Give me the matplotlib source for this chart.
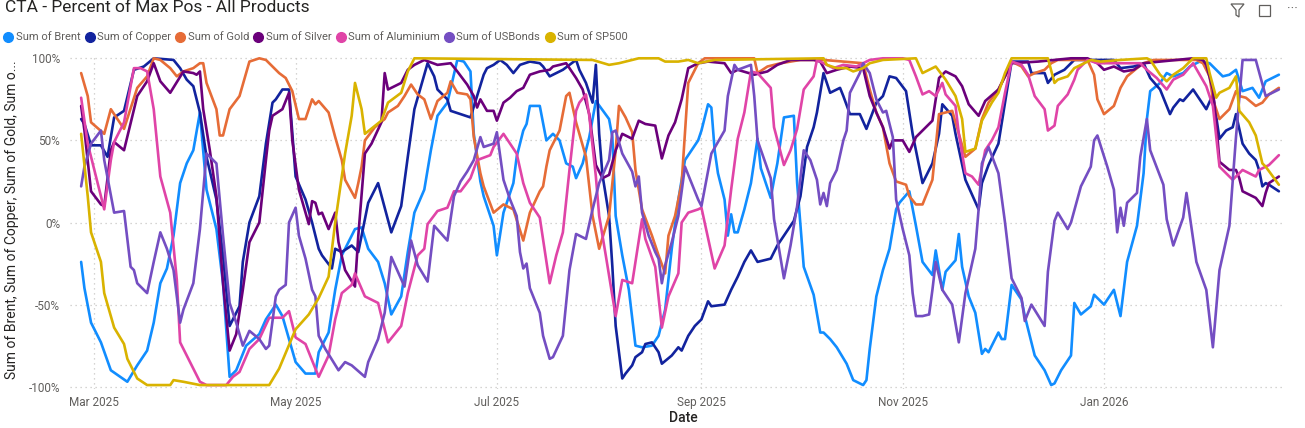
import matplotlib
matplotlib.use("Agg")
import matplotlib.pyplot as plt
from matplotlib.lines import Line2D
from matplotlib.patches import Polygon, Rectangle
import pandas as pd

plt.rcParams['font.family'] = ['Roboto', 'DejaVu Sans']

# CTA percent of max position (values in %)
brent_dates = ["2025-02-25", "2025-02-26", "2025-02-28", "2025-03-03", "2025-03-06", "2025-03-11", "2025-03-14", "2025-03-17", "2025-03-19", "2025-03-21", "2025-03-23", "2025-03-25", "2025-03-27", "2025-03-29", "2025-03-31", "2025-04-02", "2025-04-04", "2025-04-07", "2025-04-09", "2025-04-11", "2025-04-13", "2025-04-16", "2025-04-20", "2025-04-22", "2025-04-25", "2025-04-27", "2025-05-01", "2025-05-04", "2025-05-07", "2025-05-08", "2025-05-11", "2025-05-13", "2025-05-15", "2025-05-17", "2025-05-19", "2025-05-21", "2025-05-23", "2025-05-26", "2025-05-28", "2025-05-30", "2025-06-02", "2025-06-04", "2025-06-06", "2025-06-09", "2025-06-11", "2025-06-13", "2025-06-16", "2025-06-19", "2025-06-21", "2025-06-23", "2025-06-24", "2025-06-26", "2025-06-27", "2025-06-29", "2025-06-30", "2025-07-01", "2025-07-03", "2025-07-06", "2025-07-07", "2025-07-09", "2025-07-10", "2025-07-11", "2025-07-14", "2025-07-16", "2025-07-18", "2025-07-20", "2025-07-22", "2025-07-24", "2025-07-25", "2025-07-27", "2025-07-29", "2025-07-31", "2025-08-04", "2025-08-05", "2025-08-06", "2025-08-08", "2025-08-10", "2025-08-12", "2025-08-14", "2025-08-17", "2025-08-19", "2025-08-21", "2025-08-23", "2025-08-25", "2025-08-27", "2025-08-29", "2025-08-31", "2025-09-01", "2025-09-03", "2025-09-04", "2025-09-05", "2025-09-06", "2025-09-08", "2025-09-09", "2025-09-10", "2025-09-11", "2025-09-12", "2025-09-14", "2025-09-16", "2025-09-18", "2025-09-19", "2025-09-22", "2025-09-23", "2025-09-24", "2025-09-26", "2025-09-29", "2025-09-30", "2025-10-02", "2025-10-05", "2025-10-07", "2025-10-08", "2025-10-10", "2025-10-12", "2025-10-15", "2025-10-17", "2025-10-20", "2025-10-21", "2025-10-22", "2025-10-24", "2025-10-26", "2025-10-28", "2025-10-30", "2025-10-31", "2025-11-03", "2025-11-05", "2025-11-07", "2025-11-10", "2025-11-11", "2025-11-13", "2025-11-14", "2025-11-17", "2025-11-18", "2025-11-19", "2025-11-21", "2025-11-23", "2025-11-25", "2025-11-26", "2025-11-27", "2025-11-30", "2025-12-01", "2025-12-02", "2025-12-04", "2025-12-07", "2025-12-08", "2025-12-11", "2025-12-14", "2025-12-16", "2025-12-17", "2025-12-19", "2025-12-22", "2025-12-23", "2025-12-25", "2025-12-28", "2025-12-29", "2026-01-01", "2026-01-04", "2026-01-06", "2026-01-08", "2026-01-11", "2026-01-13", "2026-01-14", "2026-01-15", "2026-01-18", "2026-01-20", "2026-01-22", "2026-01-25", "2026-01-27", "2026-01-30", "2026-02-02", "2026-02-06", "2026-02-08", "2026-02-10", "2026-02-12", "2026-02-15", "2026-02-17", "2026-02-19", "2026-02-23"]
brent = [-24, -40, -61, -73, -90, -97, -87, -78, -61, -37, -28, -8, 24, 36, 44, 67, 20, -4, -37, -94, -90, -75, -68, -59, -50, -57, -85, -92, -92, -79, -67, -41, -20, -12, -4, -3, -16, -24, -37, -56, -45, -18, 6, 20, 44, 65, 73, 99, 98, 92, 54, 25, 16, 4, -2, -20, 6, 24, 40, 56, 60, 71, 71, 50, 54, 50, 36, 34, 27, 36, 52, 74, 63, 52, 4, -20, -41, -75, -76, -75, -69, -53, -16, 14, 38, 44, 50, 56, 72, 70, 44, 30, 14, -8, 5, -6, -6, 8, 24, 51, 33, 15, 26, 36, 64, 65, 24, -27, -44, -67, -67, -71, -76, -86, -96, -99, -96, -77, -45, -29, -16, 8, 12, 19, -2, -24, -32, -17, -41, -30, -23, -7, -27, -45, -55, -80, -77, -79, -67, -71, -71, -38, -47, -57, -81, -90, -99, -98, -90, -81, -49, -56, -51, -44, -50, -41, -57, -24, -2, 30, 63, 80, 85, 91, 89, 91, 95, 98, 97, 89, 90, 93, 80, 82, 76, 86, 90]

copper_dates = ["2025-02-25", "2025-02-26", "2025-02-28", "2025-03-03", "2025-03-05", "2025-03-07", "2025-03-10", "2025-03-13", "2025-03-16", "2025-03-19", "2025-03-25", "2025-03-27", "2025-03-29", "2025-03-31", "2025-04-02", "2025-04-04", "2025-04-07", "2025-04-09", "2025-04-11", "2025-04-12", "2025-04-14", "2025-04-15", "2025-04-17", "2025-04-20", "2025-04-22", "2025-04-24", "2025-04-25", "2025-04-27", "2025-04-29", "2025-05-01", "2025-05-04", "2025-05-06", "2025-05-08", "2025-05-09", "2025-05-12", "2025-05-13", "2025-05-15", "2025-05-18", "2025-05-20", "2025-05-23", "2025-05-26", "2025-05-30", "2025-06-02", "2025-06-04", "2025-06-06", "2025-06-08", "2025-06-10", "2025-06-12", "2025-06-13", "2025-06-16", "2025-06-17", "2025-06-23", "2025-06-25", "2025-06-27", "2025-06-28", "2025-06-30", "2025-07-02", "2025-07-04", "2025-07-06", "2025-07-08", "2025-07-11", "2025-07-14", "2025-07-15", "2025-07-17", "2025-07-18", "2025-07-21", "2025-07-23", "2025-07-25", "2025-07-26", "2025-07-28", "2025-07-30", "2025-07-31", "2025-08-01", "2025-08-02", "2025-08-04", "2025-08-05", "2025-08-06", "2025-08-08", "2025-08-09", "2025-08-11", "2025-08-12", "2025-08-14", "2025-08-15", "2025-08-17", "2025-08-19", "2025-08-20", "2025-08-23", "2025-08-25", "2025-08-26", "2025-08-28", "2025-08-30", "2025-09-01", "2025-09-03", "2025-09-04", "2025-09-08", "2025-09-10", "2025-09-12", "2025-09-14", "2025-09-16", "2025-09-18", "2025-09-22", "2025-09-24", "2025-09-26", "2025-09-29", "2025-10-01", "2025-10-03", "2025-10-05", "2025-10-06", "2025-10-07", "2025-10-08", "2025-10-10", "2025-10-13", "2025-10-14", "2025-10-16", "2025-10-19", "2025-10-21", "2025-10-24", "2025-10-26", "2025-10-28", "2025-10-30", "2025-11-02", "2025-11-04", "2025-11-07", "2025-11-10", "2025-11-12", "2025-11-13", "2025-11-16", "2025-11-17", "2025-11-20", "2025-11-22", "2025-11-24", "2025-11-25", "2025-11-27", "2025-11-30", "2025-12-02", "2025-12-04", "2025-12-09", "2025-12-10", "2025-12-14", "2025-12-15", "2025-12-17", "2025-12-20", "2025-12-23", "2026-01-04", "2026-01-06", "2026-01-10", "2026-01-13", "2026-01-15", "2026-01-18", "2026-01-21", "2026-01-22", "2026-01-24", "2026-01-25", "2026-01-28", "2026-01-30", "2026-02-01", "2026-02-03", "2026-02-05", "2026-02-07", "2026-02-09", "2026-02-10", "2026-02-12", "2026-02-14", "2026-02-16", "2026-02-17", "2026-02-18", "2026-02-19", "2026-02-20", "2026-02-23"]
copper = [63, 60, 47, 47, 40, 64, 68, 93, 95, 100, 99, 94, 87, 83, 67, 40, 14, -20, -63, -59, -51, -24, 0, 16, 48, 73, 75, 81, 81, 28, 14, 0, -16, -20, -28, -16, -18, -14, -18, 12, 24, -6, 10, 40, 69, 83, 97, 89, 81, 75, 68, 64, 77, 90, 94, 96, 99, 96, 91, 96, 98, 97, 95, 89, 90, 93, 96, 99, 93, 85, 73, 96, 54, 29, 4, -27, -63, -95, -92, -87, -82, -79, -74, -73, -79, -86, -81, -76, -78, -69, -63, -59, -48, -51, -50, -41, -33, -24, -17, -24, -22, -14, -8, 1, 16, 46, 58, 67, 79, 91, 79, 82, 77, 66, 66, 57, 73, 77, 89, 88, 80, 54, 24, 36, 54, 72, 65, 54, 26, 17, 8, 24, 35, 48, 73, 98, 98, 91, 91, 85, 90, 93, 99, 99, 94, 95, 97, 88, 81, 66, 70, 75, 74, 81, 75, 69, 78, 51, 56, 58, 66, 48, 42, 38, 32, 22, 24, 23, 19]

gold_dates = ["2025-02-25", "2025-02-27", "2025-02-28", "2025-03-04", "2025-03-06", "2025-03-10", "2025-03-14", "2025-03-17", "2025-03-19", "2025-03-21", "2025-03-24", "2025-03-26", "2025-03-28", "2025-03-31", "2025-04-02", "2025-04-03", "2025-04-04", "2025-04-07", "2025-04-08", "2025-04-09", "2025-04-11", "2025-04-14", "2025-04-17", "2025-04-20", "2025-04-22", "2025-04-24", "2025-04-26", "2025-04-28", "2025-04-30", "2025-05-02", "2025-05-04", "2025-05-06", "2025-05-07", "2025-05-08", "2025-05-11", "2025-05-13", "2025-05-15", "2025-05-16", "2025-05-19", "2025-05-20", "2025-05-21", "2025-05-22", "2025-05-25", "2025-05-28", "2025-05-29", "2025-06-01", "2025-06-03", "2025-06-05", "2025-06-07", "2025-06-09", "2025-06-11", "2025-06-13", "2025-06-16", "2025-06-17", "2025-06-19", "2025-06-22", "2025-06-23", "2025-06-24", "2025-06-26", "2025-06-27", "2025-06-30", "2025-07-03", "2025-07-06", "2025-07-09", "2025-07-11", "2025-07-14", "2025-07-15", "2025-07-16", "2025-07-17", "2025-07-20", "2025-07-22", "2025-07-23", "2025-07-25", "2025-07-28", "2025-07-30", "2025-08-01", "2025-08-04", "2025-08-06", "2025-08-07", "2025-08-09", "2025-08-11", "2025-08-12", "2025-08-14", "2025-08-17", "2025-08-19", "2025-08-21", "2025-08-22", "2025-08-24", "2025-08-26", "2025-08-28", "2025-08-31", "2025-09-02", "2025-09-17", "2025-09-18", "2025-09-21", "2025-09-25", "2025-10-01", "2025-10-08", "2025-10-14", "2025-10-20", "2025-10-22", "2025-10-24", "2025-10-26", "2025-10-28", "2025-10-30", "2025-11-02", "2025-11-03", "2025-11-05", "2025-11-07", "2025-11-10", "2025-11-12", "2025-11-16", "2025-11-18", "2025-11-20", "2025-11-23", "2025-11-25", "2025-11-27", "2025-11-30", "2025-12-03", "2025-12-04", "2025-12-07", "2025-12-09", "2025-12-11", "2025-12-14", "2025-12-16", "2025-12-18", "2025-12-27", "2025-12-29", "2025-12-30", "2026-01-01", "2026-01-04", "2026-01-06", "2026-01-08", "2026-01-11", "2026-01-13", "2026-01-16", "2026-01-29", "2026-01-31", "2026-02-02", "2026-02-03", "2026-02-05", "2026-02-08", "2026-02-10", "2026-02-11", "2026-02-13", "2026-02-16", "2026-02-18", "2026-02-20", "2026-02-23"]
gold = [91, 77, 61, 54, 69, 57, 82, 89, 100, 99, 94, 89, 92, 94, 97, 97, 85, 69, 53, 53, 69, 77, 98, 100, 99, 95, 91, 88, 80, 63, 63, 75, 72, 74, 67, 52, 38, 26, 15, 24, 34, 50, 58, 63, 67, 71, 77, 84, 78, 75, 63, 74, 79, 86, 79, 78, 75, 52, 30, 22, 6, 11, 8, -11, 6, 19, 22, 34, 44, 56, 77, 79, 61, 40, 4, -16, 4, 44, 71, 64, 55, 32, 8, -8, -20, -31, -8, 4, 24, 85, 97, 100, 100, 91, 95, 97, 99, 99, 98, 97, 81, 67, 58, 36, 25, 23, 16, 11, 11, 26, 66, 68, 54, 40, 45, 63, 73, 81, 93, 98, 95, 89, 91, 93, 97, 99, 99, 90, 75, 66, 71, 82, 89, 94, 97, 99, 99, 97, 89, 75, 63, 69, 80, 77, 76, 71, 73, 78, 82]

silver_dates = ["2025-02-25", "2025-02-26", "2025-02-28", "2025-03-03", "2025-03-04", "2025-03-06", "2025-03-07", "2025-03-10", "2025-03-14", "2025-03-17", "2025-03-19", "2025-03-21", "2025-03-24", "2025-03-28", "2025-03-31", "2025-04-01", "2025-04-02", "2025-04-03", "2025-04-05", "2025-04-07", "2025-04-09", "2025-04-11", "2025-04-13", "2025-04-15", "2025-04-17", "2025-04-20", "2025-04-22", "2025-04-23", "2025-04-24", "2025-04-27", "2025-04-29", "2025-04-30", "2025-05-02", "2025-05-05", "2025-05-06", "2025-05-07", "2025-05-08", "2025-05-09", "2025-05-11", "2025-05-13", "2025-05-14", "2025-05-16", "2025-05-19", "2025-05-20", "2025-05-22", "2025-05-24", "2025-05-27", "2025-05-28", "2025-05-29", "2025-06-02", "2025-06-04", "2025-06-06", "2025-06-09", "2025-06-13", "2025-06-17", "2025-06-19", "2025-06-22", "2025-06-24", "2025-06-25", "2025-06-26", "2025-06-28", "2025-06-30", "2025-07-01", "2025-07-03", "2025-07-05", "2025-07-07", "2025-07-09", "2025-07-11", "2025-07-14", "2025-07-17", "2025-07-18", "2025-07-22", "2025-07-25", "2025-07-27", "2025-07-29", "2025-07-31", "2025-08-02", "2025-08-04", "2025-08-06", "2025-08-08", "2025-08-11", "2025-08-13", "2025-08-15", "2025-08-18", "2025-08-20", "2025-08-22", "2025-08-24", "2025-08-26", "2025-08-28", "2025-08-31", "2025-09-03", "2025-09-08", "2025-09-10", "2025-09-12", "2025-09-17", "2025-09-21", "2025-09-24", "2025-09-28", "2025-10-05", "2025-10-07", "2025-10-09", "2025-10-12", "2025-10-16", "2025-10-20", "2025-10-22", "2025-10-24", "2025-10-26", "2025-10-28", "2025-10-29", "2025-11-01", "2025-11-03", "2025-11-05", "2025-11-10", "2025-11-12", "2025-11-14", "2025-11-17", "2025-11-19", "2025-11-21", "2025-11-24", "2025-11-26", "2025-11-30", "2025-12-02", "2025-12-04", "2025-12-12", "2025-12-22", "2025-12-27", "2025-12-30", "2026-01-01", "2026-01-04", "2026-01-07", "2026-01-10", "2026-01-13", "2026-01-28", "2026-01-31", "2026-02-01", "2026-02-03", "2026-02-04", "2026-02-05", "2026-02-08", "2026-02-10", "2026-02-11", "2026-02-12", "2026-02-16", "2026-02-18", "2026-02-19", "2026-02-20", "2026-02-23"]
silver = [71, 56, 19, 11, 10, 44, 49, 44, 77, 86, 97, 86, 79, 92, 91, 90, 92, 69, 44, 16, -37, -78, -68, -41, -12, 0, 38, 56, 65, 69, 79, 50, 20, -1, 13, 12, 5, 6, -4, 6, -12, -29, -39, -8, 42, 48, 61, 91, 81, 85, 93, 96, 99, 96, 97, 92, 84, 77, 70, 75, 68, 68, 62, 73, 76, 80, 82, 90, 92, 93, 95, 97, 88, 81, 66, 35, 27, 29, 44, 54, 51, 62, 60, 59, 39, 53, 61, 75, 94, 97, 98, 97, 91, 93, 90, 92, 96, 99, 99, 98, 91, 93, 95, 94, 77, 67, 58, 45, 50, 50, 43, 52, 62, 88, 92, 89, 83, 72, 65, 74, 81, 89, 97, 98, 100, 100, 97, 93, 95, 92, 93, 97, 100, 99, 96, 81, 61, 37, 32, 32, 27, 19, 15, 10, 18, 24, 28]

aluminium_dates = ["2025-02-25", "2025-02-27", "2025-03-01", "2025-03-04", "2025-03-06", "2025-03-07", "2025-03-10", "2025-03-13", "2025-03-15", "2025-03-17", "2025-03-19", "2025-03-21", "2025-03-24", "2025-03-26", "2025-03-27", "2025-03-30", "2025-04-02", "2025-04-04", "2025-04-10", "2025-04-12", "2025-04-14", "2025-04-17", "2025-04-20", "2025-04-23", "2025-04-27", "2025-04-29", "2025-05-01", "2025-05-04", "2025-05-08", "2025-05-11", "2025-05-13", "2025-05-15", "2025-05-18", "2025-05-19", "2025-05-22", "2025-05-26", "2025-05-29", "2025-06-02", "2025-06-04", "2025-06-07", "2025-06-09", "2025-06-10", "2025-06-13", "2025-06-16", "2025-06-18", "2025-06-20", "2025-06-23", "2025-06-25", "2025-06-29", "2025-06-30", "2025-07-03", "2025-07-07", "2025-07-09", "2025-07-11", "2025-07-14", "2025-07-17", "2025-07-19", "2025-07-21", "2025-07-23", "2025-07-25", "2025-07-26", "2025-07-28", "2025-07-29", "2025-07-31", "2025-08-01", "2025-08-03", "2025-08-06", "2025-08-08", "2025-08-11", "2025-08-14", "2025-08-15", "2025-08-18", "2025-08-20", "2025-08-22", "2025-08-25", "2025-08-26", "2025-08-28", "2025-08-31", "2025-09-01", "2025-09-05", "2025-09-08", "2025-09-10", "2025-09-12", "2025-09-14", "2025-09-16", "2025-09-18", "2025-09-22", "2025-09-23", "2025-09-26", "2025-09-28", "2025-09-30", "2025-10-02", "2025-10-05", "2025-10-06", "2025-10-08", "2025-10-11", "2025-10-14", "2025-10-18", "2025-10-22", "2025-10-26", "2025-11-01", "2025-11-03", "2025-11-05", "2025-11-07", "2025-11-09", "2025-11-11", "2025-11-13", "2025-11-14", "2025-11-17", "2025-11-18", "2025-11-20", "2025-11-22", "2025-11-24", "2025-11-26", "2025-11-28", "2025-11-30", "2025-12-02", "2025-12-04", "2025-12-07", "2025-12-09", "2025-12-11", "2025-12-14", "2025-12-15", "2025-12-17", "2025-12-18", "2025-12-21", "2025-12-23", "2025-12-24", "2025-12-27", "2025-12-30", "2026-01-12", "2026-01-14", "2026-01-17", "2026-01-20", "2026-01-22", "2026-01-25", "2026-01-28", "2026-01-30", "2026-02-01", "2026-02-03", "2026-02-05", "2026-02-09", "2026-02-12", "2026-02-16", "2026-02-17", "2026-02-20", "2026-02-23"]
aluminium = [76, 48, 32, 8, 38, 49, 61, 94, 94, 92, 69, 28, 6, -35, -73, -85, -97, -99, -99, -94, -91, -77, -71, -58, -58, -54, -70, -74, -94, -81, -59, -43, -38, -31, -45, -49, -73, -63, -43, -20, -16, -1, 7, 9, 19, 19, 27, 38, 41, 46, 54, 42, 24, 12, 3, -37, -20, -6, 32, 68, 73, 78, 65, 28, 4, -20, -57, -35, -37, 2, -10, -27, -64, -45, -31, 0, 6, 8, 9, -28, -14, 20, 51, 67, 92, 91, 82, 58, 35, 44, 57, 81, 89, 99, 97, 94, 96, 95, 99, 100, 100, 99, 89, 78, 80, 77, 85, 78, 71, 54, 30, 28, 23, 44, 50, 58, 79, 98, 96, 90, 77, 69, 56, 59, 71, 78, 87, 93, 99, 97, 97, 93, 88, 81, 87, 90, 97, 90, 83, 71, 34, 26, 32, 28, 32, 35, 41]

usbonds_dates = ["2025-02-25", "2025-02-26", "2025-02-28", "2025-03-03", "2025-03-04", "2025-03-07", "2025-03-10", "2025-03-12", "2025-03-13", "2025-03-14", "2025-03-17", "2025-03-19", "2025-03-21", "2025-03-23", "2025-03-25", "2025-03-27", "2025-03-28", "2025-03-31", "2025-04-02", "2025-04-04", "2025-04-07", "2025-04-09", "2025-04-11", "2025-04-13", "2025-04-15", "2025-04-17", "2025-04-20", "2025-04-22", "2025-04-23", "2025-04-25", "2025-04-26", "2025-04-28", "2025-04-29", "2025-05-01", "2025-05-02", "2025-05-04", "2025-05-06", "2025-05-07", "2025-05-08", "2025-05-10", "2025-05-14", "2025-05-16", "2025-05-18", "2025-05-22", "2025-05-23", "2025-05-26", "2025-05-28", "2025-05-30", "2025-06-03", "2025-06-05", "2025-06-07", "2025-06-10", "2025-06-12", "2025-06-16", "2025-06-18", "2025-06-20", "2025-06-22", "2025-06-24", "2025-06-26", "2025-06-27", "2025-06-30", "2025-07-01", "2025-07-03", "2025-07-05", "2025-07-07", "2025-07-08", "2025-07-09", "2025-07-10", "2025-07-11", "2025-07-14", "2025-07-15", "2025-07-17", "2025-07-18", "2025-07-21", "2025-07-23", "2025-07-25", "2025-07-28", "2025-07-30", "2025-08-01", "2025-08-04", "2025-08-05", "2025-08-06", "2025-08-08", "2025-08-11", "2025-08-12", "2025-08-13", "2025-08-14", "2025-08-16", "2025-08-18", "2025-08-19", "2025-08-20", "2025-08-21", "2025-08-23", "2025-08-25", "2025-08-27", "2025-08-29", "2025-08-31", "2025-09-01", "2025-09-04", "2025-09-08", "2025-09-09", "2025-09-11", "2025-09-12", "2025-09-16", "2025-09-17", "2025-09-18", "2025-09-22", "2025-09-23", "2025-09-26", "2025-09-28", "2025-09-30", "2025-10-02", "2025-10-04", "2025-10-06", "2025-10-07", "2025-10-08", "2025-10-09", "2025-10-10", "2025-10-12", "2025-10-14", "2025-10-15", "2025-10-16", "2025-10-19", "2025-10-20", "2025-10-22", "2025-10-24", "2025-10-26", "2025-10-27", "2025-10-29", "2025-10-30", "2025-11-01", "2025-11-03", "2025-11-04", "2025-11-05", "2025-11-07", "2025-11-09", "2025-11-10", "2025-11-11", "2025-11-13", "2025-11-16", "2025-11-18", "2025-11-20", "2025-11-23", "2025-11-24", "2025-11-25", "2025-11-27", "2025-11-30", "2025-12-02", "2025-12-04", "2025-12-07", "2025-12-08", "2025-12-10", "2025-12-14", "2025-12-15", "2025-12-17", "2025-12-18", "2025-12-21", "2025-12-22", "2025-12-25", "2025-12-28", "2025-12-29", "2025-12-30", "2026-01-02", "2026-01-04", "2026-01-05", "2026-01-06", "2026-01-07", "2026-01-08", "2026-01-11", "2026-01-12", "2026-01-14", "2026-01-15", "2026-01-19", "2026-01-20", "2026-01-22", "2026-01-25", "2026-01-26", "2026-01-29", "2026-02-01", "2026-02-03", "2026-02-05", "2026-02-08", "2026-02-10", "2026-02-12", "2026-02-16", "2026-02-19", "2026-02-23"]
usbonds = [22, 34, 48, 56, 38, 6, 7, -27, -29, -37, -43, -24, -6, -16, -29, -61, -53, -37, -4, 42, 36, -8, -49, -61, -75, -66, -71, -77, -75, -45, -41, -38, 0, 9, -8, -22, -41, -45, -69, -77, -90, -85, -87, -94, -85, -71, -55, -21, -39, -11, -26, -36, -2, -11, 16, 25, 31, 38, 52, 46, 48, 55, 26, 14, 4, -18, -28, -25, -40, -55, -69, -83, -82, -69, -29, -7, -10, 8, 24, 38, 55, 56, 42, 31, 22, 28, 6, -8, -18, -22, -37, -26, -12, 4, 34, 24, 14, 10, 42, 56, 77, 96, 93, 96, 77, 50, 27, 2, -34, -14, 10, 44, 38, 26, 11, 18, 10, 24, 32, 50, 56, 79, 91, 97, 91, 75, 67, 68, 52, 14, -4, -20, -43, -57, -57, -56, -41, -24, -41, -50, -73, -43, -16, 8, 36, 46, 30, 0, -34, -46, -60, -50, -63, -30, 1, 6, -4, 0, 22, 34, 50, 53, 34, 20, -6, 9, -2, 12, 18, 40, 63, 44, 23, 2, -14, 3, 18, -24, -41, -76, -29, -2, 52, 99, 99, 77, 81]

sp500_dates = ["2025-02-25", "2025-02-27", "2025-02-28", "2025-03-03", "2025-03-04", "2025-03-07", "2025-03-10", "2025-03-11", "2025-03-14", "2025-03-17", "2025-03-24", "2025-03-25", "2025-03-28", "2025-04-02", "2025-04-23", "2025-04-26", "2025-05-01", "2025-05-05", "2025-05-08", "2025-05-11", "2025-05-13", "2025-05-16", "2025-05-18", "2025-05-19", "2025-05-21", "2025-05-22", "2025-05-27", "2025-05-29", "2025-06-02", "2025-06-04", "2025-06-06", "2025-07-30", "2025-08-04", "2025-08-07", "2025-08-13", "2025-08-19", "2025-08-21", "2025-08-25", "2025-08-28", "2025-08-31", "2025-09-05", "2025-10-08", "2025-10-09", "2025-10-12", "2025-10-15", "2025-10-17", "2025-10-20", "2025-10-22", "2025-10-26", "2025-11-05", "2025-11-07", "2025-11-09", "2025-11-11", "2025-11-14", "2025-11-17", "2025-11-19", "2025-11-20", "2025-11-23", "2025-11-25", "2025-11-28", "2025-11-30", "2025-12-02", "2025-12-04", "2025-12-15", "2025-12-17", "2025-12-18", "2025-12-21", "2025-12-23", "2025-12-26", "2025-12-28", "2025-12-31", "2026-01-06", "2026-01-14", "2026-01-15", "2026-01-18", "2026-01-20", "2026-01-22", "2026-01-25", "2026-01-28", "2026-02-01", "2026-02-02", "2026-02-04", "2026-02-05", "2026-02-08", "2026-02-10", "2026-02-11", "2026-02-14", "2026-02-16", "2026-02-18", "2026-02-19", "2026-02-23"]
sp500 = [54, 16, -6, -24, -43, -64, -74, -83, -95, -99, -99, -96, -97, -99, -99, -89, -65, -56, -46, -33, 0, 42, 65, 85, 69, 54, 62, 73, 79, 92, 100, 99, 96, 97, 100, 100, 98, 98, 99, 97, 99, 100, 96, 94, 94, 92, 94, 97, 99, 100, 91, 93, 95, 87, 77, 63, 43, 45, 62, 73, 79, 91, 100, 100, 85, 87, 89, 94, 97, 99, 98, 99, 100, 99, 90, 86, 90, 94, 100, 100, 91, 76, 79, 82, 89, 68, 61, 53, 36, 34, 23]

series_names = ["Sum of Brent", "Sum of Copper", "Sum of Gold", "Sum of Silver",
                "Sum of Aluminium", "Sum of USBonds", "Sum of SP500"]
series_dates = [brent_dates, copper_dates, gold_dates, silver_dates,
                aluminium_dates, usbonds_dates, sp500_dates]
series_vals = [brent, copper, gold, silver, aluminium, usbonds, sp500]
colors = ["#118DFF", "#12239E", "#E66C37", "#6B007B", "#E044A7", "#744EC2", "#D9B300"]

tick_dates = ["2025-03-01", "2025-05-01", "2025-07-01", "2025-09-01", "2025-11-01", "2026-01-01"]
tick_labels = ["Mar 2025", "May 2025", "Jul 2025", "Sep 2025", "Nov 2025", "Jan 2026"]
y_ticks = [-100, -50, 0, 50, 100]

W, H = 1305, 428
fig = plt.figure(figsize=(W / 100, H / 100), dpi=100)
ax = fig.add_axes([70 / W, 1 - 389 / H, (1283 - 70) / W, 333 / H])

for name, dts, vals, c in zip(series_names, series_dates, series_vals, colors):
    ax.plot(pd.to_datetime(dts), vals, color=c, lw=1.9, solid_joinstyle="round",
            solid_capstyle="round", label=name)

ax.set_xlim(pd.Timestamp("2025-02-21 15:00"), pd.Timestamp("2026-02-24 06:00"))
ax.set_ylim(-101.4, 101.4)
ax.set_xticks(pd.to_datetime(tick_dates))
ax.set_xticklabels(tick_labels)
ax.set_yticks(y_ticks)
ax.set_yticklabels([f"{v}%" for v in y_ticks])
ax.tick_params(length=0, labelsize=8.5, colors="#605E5C", pad=7)
ax.tick_params(axis="x", pad=5)
ax.grid(True, color="#C8C6C4", linestyle=(0, (1, 3)), linewidth=0.9)
ax.set_axisbelow(True)
for s in ax.spines.values():
    s.set_visible(False)

# title, axis titles
fig.text(5 / W, 1 - 8 / H, "CTA - Percent of Max Pos - All Products", fontsize=12.5,
         color="#252423", va="center", ha="left")
fig.text(12 / W, 1 - 220 / H, "Sum of Brent, Sum of Copper, Sum of Gold, Sum o...",
         rotation=90, fontsize=10, color="#252423", ha="center", va="center")
fig.text(683 / W, 1 - 418 / H, "Date", fontsize=10, color="#252423",
         ha="center", va="center", fontweight="medium")

# legend
handles = [Line2D([], [], marker="o", ls="", ms=7, color=c, label=n)
           for n, c in zip(series_names, colors)]
fig.legend(handles=handles, loc="center left", bbox_to_anchor=(4 / W, 1 - 37 / H),
           ncol=7, frameon=False, fontsize=8, handletextpad=0.25,
           columnspacing=0.45, handlelength=0.8, borderaxespad=0, borderpad=0,
           labelcolor="#605E5C")

# header icons (filter, focus, more)
fy = 1 - 10 / H
fig.patches.append(Polygon([[1231 / W, 1 - 4 / H], [1244 / W, 1 - 4 / H],
                            [1239 / W, 1 - 10 / H], [1239 / W, 1 - 17 / H],
                            [1236 / W, 1 - 15 / H], [1236 / W, 1 - 10 / H]],
                           closed=True, fill=False, ec="#605E5C", lw=0.9,
                           transform=fig.transFigure))
fig.patches.append(Rectangle((1259 / W, 1 - 16 / H), 11 / W, 11 / H, fill=False,
                             ec="#605E5C", lw=0.9, transform=fig.transFigure))
fig.text(1292 / W, fy, "···", fontsize=10, color="#605E5C", ha="center", va="center")

fig.savefig("out.png", dpi=100)
